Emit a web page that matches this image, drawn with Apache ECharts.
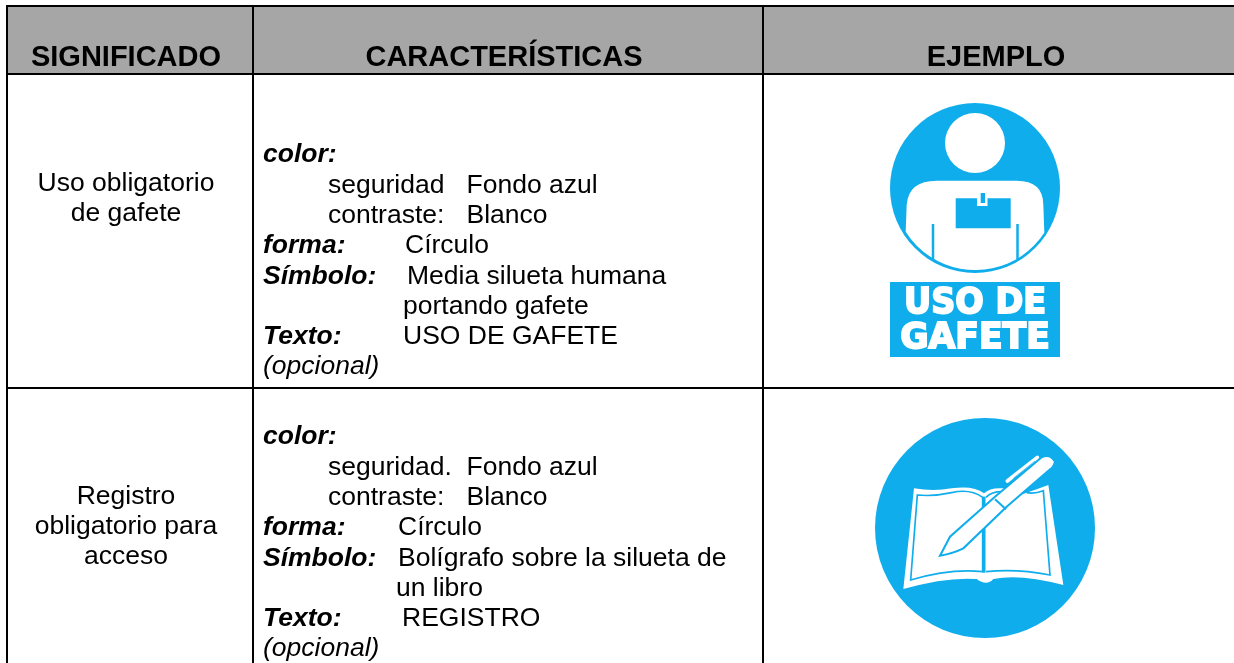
<!DOCTYPE html>
<html>
<head>
<meta charset="utf-8">
<title>Señales</title>
<style>
  html, body { margin: 0; padding: 0; background: #fff; }
  #main { width: 1234px; height: 663px; }
</style>
<script src="https://cdn.jsdelivr.net/npm/echarts@6/dist/echarts.min.js"></script>
</head>
<body>
<div id="main"></div>
<script>
// table content
var headers = ['SIGNIFICADO', 'CARACTERÍSTICAS', 'EJEMPLO'];
var meaningRow1 = ['Uso obligatorio', 'de gafete'];
var meaningRow2 = ['Registro', 'obligatorio para', 'acceso'];
var detailLabels = ['color:', 'forma:', 'Símbolo:', 'Texto:', '(opcional)'];
var detailRow1 = ['seguridad   Fondo azul', 'contraste:   Blanco', 'Círculo', 'Media silueta humana', 'portando gafete', 'USO DE GAFETE'];
var detailRow2 = ['seguridad.  Fondo azul', 'contraste:   Blanco', 'Círculo', 'Bolígrafo sobre la silueta de', 'un libro', 'REGISTRO'];
var signText1 = ['USO DE', 'GAFETE'];

var BLUE = '#0fadec';
var FONT = '"Liberation Sans", Arial, sans-serif';
var BODY = 26.5;
var STEP = 30.3;

// paths are written in the 3x crop coordinates of each sign
var shapes = {
  badgeBody: 'M437 425 L440 345 Q445 272 530 272 L770 272 Q850 272 850 345 L853 428 A247 247 0 0 1 437 425 Z',
  bookOuter: 'M462 325 Q520 335 575 325 Q640 315 672 340 Q690 322 730 325 L780 345 L830 328 L865 315 L910 615 Q780 580 700 597 Q680 620 650 597 Q560 590 430 627 Z',
  bookLeft: 'M472 345 Q520 350 575 338 Q630 325 668 352 L668 575 Q570 565 452 600 Z',
  bookRight: 'M678 352 Q695 335 725 335 M800 338 Q825 342 850 332 L870 585 Q770 565 678 575',
  pen: 'M540 527 L570 470 L705 350 L845 232 Q870 220 885 245 Q880 262 870 268 L740 380 L610 505 Q580 520 540 527 Z'
};
Object.keys(shapes).forEach(function (name) {
  echarts.graphic.registerShape(name, echarts.graphic.extendPath(shapes[name], {}));
});

function label(text, x, y, size, opts) {
  opts = opts || {};
  return {
    type: 'text', x: x, y: y, z: 10,
    style: {
      text: text, fontFamily: FONT, fontSize: size, fill: opts.fill || '#000',
      fontWeight: opts.weight || 'normal', fontStyle: opts.style || 'normal',
      align: opts.align || 'left', verticalAlign: 'middle'
    }
  };
}

function rule(x1, y1, x2, y2) {
  return { type: 'line', z: 5, shape: { x1: x1, y1: y1, x2: x2, y2: y2 }, style: { stroke: '#000', lineWidth: 2 } };
}

// one block of characteristics: labels are bold italic, values are plain
function details(values, top, valueX) {
  var bi = { weight: 'bold', style: 'italic' };
  var x = 263;
  return [
    label(detailLabels[0], x, top, BODY, bi),
    label(values[0], 328, top + STEP, BODY),
    label(values[1], 328, top + STEP * 2, BODY),
    label(detailLabels[1], x, top + STEP * 3, BODY, bi),
    label(values[2], valueX[0], top + STEP * 3, BODY),
    label(detailLabels[2], x, top + STEP * 4, BODY, bi),
    label(values[3], valueX[1], top + STEP * 4, BODY),
    label(values[4], valueX[2], top + STEP * 5, BODY),
    label(detailLabels[3], x, top + STEP * 6, BODY, bi),
    label(values[5], valueX[3], top + STEP * 6, BODY),
    label(detailLabels[4], x, top + STEP * 7, BODY, { style: 'italic' })
  ];
}

var g = [];

// header band and grid
g.push({ type: 'rect', shape: { x: 7, y: 6, width: 1227, height: 68 }, style: { fill: '#a6a6a6' } });
g.push(rule(6, 6, 1234, 6));
g.push(rule(7, 5, 7, 663));
g.push(rule(253, 5, 253, 663));
g.push(rule(763, 5, 763, 663));
g.push(rule(7, 74, 1234, 74));
g.push(rule(7, 388, 1234, 388));

g.push(label(headers[0], 126, 58, 29, { weight: 'bold', align: 'center' }));
g.push(label(headers[1], 504, 58, 29, { weight: 'bold', align: 'center' }));
g.push(label(headers[2], 996, 58, 29, { weight: 'bold', align: 'center' }));

meaningRow1.forEach(function (t, i) { g.push(label(t, 126, 184 + i * 30, BODY, { align: 'center' })); });
meaningRow2.forEach(function (t, i) { g.push(label(t, 126, 497 + i * 30, BODY, { align: 'center' })); });

g = g.concat(details(detailRow1, 155, [405, 407, 403, 403]));
g = g.concat(details(detailRow2, 437, [398, 398, 396, 402]));

// sign 1: gafete
g.push({ type: 'circle', shape: { cx: 975, cy: 188, r: 85 }, style: { fill: BLUE } });
g.push({ type: 'circle', shape: { cx: 975, cy: 143, r: 30 }, style: { fill: '#fff' } });
g.push({ type: 'badgeBody', x: 760, y: 90, scaleX: 1 / 3, scaleY: 1 / 3, style: { fill: '#fff' } });
g.push({ type: 'rect', shape: { x: 955.7, y: 198.3, width: 55, height: 30 }, style: { fill: BLUE } });
g.push({ type: 'rect', shape: { x: 977, y: 198, width: 10.5, height: 8 }, style: { fill: '#fff' } });
g.push({ type: 'rect', shape: { x: 980.7, y: 193, width: 4.3, height: 10 }, style: { fill: BLUE } });
g.push({ type: 'line', shape: { x1: 933, y1: 224, x2: 933, y2: 259 }, style: { stroke: BLUE, lineWidth: 2.5 } });
g.push({ type: 'line', shape: { x1: 1017.5, y1: 224, x2: 1017.5, y2: 259 }, style: { stroke: BLUE, lineWidth: 2.5 } });
g.push({ type: 'rect', shape: { x: 890, y: 282, width: 170, height: 75 }, style: { fill: BLUE } });
signText1.forEach(function (t, i) {
  g.push({
    type: 'text', x: 975, y: 304 + i * 35, scaleX: i ? 0.96 : 0.93, z: 10,
    style: {
      text: t, fontFamily: '"DejaVu Sans", sans-serif', fontWeight: 'bold', fontSize: 36,
      fill: '#fff', align: 'center', verticalAlign: 'middle', stroke: '#fff', lineWidth: 2
    }
  });
});

// sign 2: registro
g.push({ type: 'circle', shape: { cx: 985, cy: 528, r: 110 }, style: { fill: BLUE } });
var crop2 = { x: 760, y: 380, scaleX: 1 / 3, scaleY: 1 / 3 };
function inCrop(type, style) {
  return Object.assign({ type: type, style: style }, crop2);
}
g.push(inCrop('bookOuter', { fill: '#fff' }));
g.push(inCrop('bookLeft', { fill: '#fff', stroke: BLUE, lineWidth: 5 }));
g.push(inCrop('bookRight', { fill: null, stroke: BLUE, lineWidth: 5 }));
g.push(Object.assign({ type: 'line', shape: { x1: 672, y1: 350, x2: 672, y2: 578 }, style: { stroke: BLUE, lineWidth: 9 } }, crop2));
g.push(inCrop('pen', { fill: '#fff', stroke: BLUE, lineWidth: 6 }));
g.push(Object.assign({ type: 'line', shape: { x1: 705, y1: 358, x2: 738, y2: 388 }, style: { stroke: BLUE, lineWidth: 6 } }, crop2));
g.push(Object.assign({ type: 'line', shape: { x1: 742, y1: 303, x2: 832, y2: 232 }, style: { stroke: '#fff', lineWidth: 11, lineCap: 'round' } }, crop2));
g.push(Object.assign({ type: 'line', shape: { x1: 760, y1: 295, x2: 825, y2: 243 }, style: { stroke: BLUE, lineWidth: 2 } }, crop2));

var myChart = echarts.init(document.getElementById('main'));
myChart.setOption({ animation: false, backgroundColor: '#fff', graphic: { elements: g } });
</script>
</body>
</html>
